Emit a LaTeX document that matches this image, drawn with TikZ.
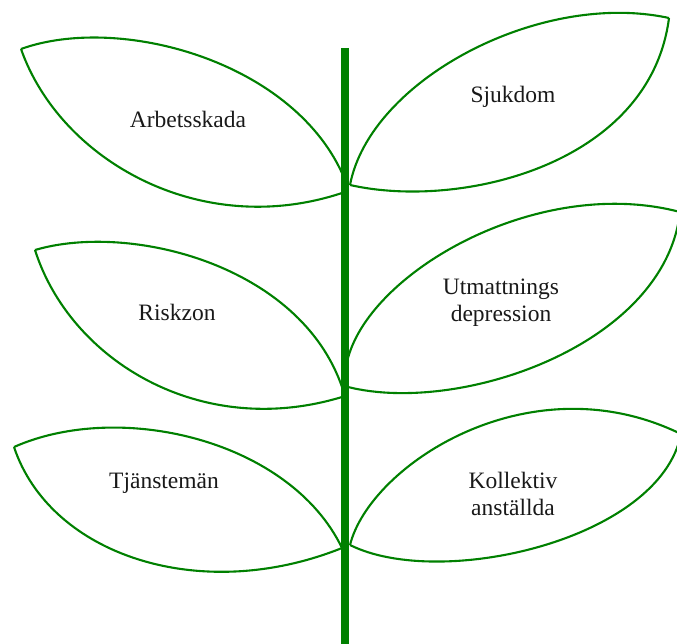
\documentclass[tikz,border=0pt]{standalone}
\usepackage{fontspec}
\setmainfont{Liberation Serif}
\definecolor{leafgreen}{RGB}{0,128,0}

\begin{document}
\begin{tikzpicture}[x=1pt, y=-1pt,
        leaf/.style={draw=leafgreen, line width=2.1pt},
        stalk/.style={draw=leafgreen, line width=8pt},
        word/.style={font=\fontsize{23.5}{27}\selectfont, text=black!90, inner sep=0pt, align=center}]
    \useasboundingbox (0,0) rectangle (677,644);
    \begin{scope}
        \clip (0,0) rectangle (677,644);

        % leaf tips and where they meet the stem
        \coordinate (tipA) at (21,49);   \coordinate (baseAu) at (342,173); \coordinate (baseAl) at (342,193);
        \coordinate (tipS) at (669,18);  \coordinate (baseS) at (350,185);
        \coordinate (tipR) at (35,250);  \coordinate (baseRu) at (342,387); \coordinate (baseRl) at (342,397);
        \coordinate (tipU) at (680,212); \coordinate (baseUu) at (348,358); \coordinate (baseUl) at (348,387);
        \coordinate (tipT) at (14,447);  \coordinate (baseT) at (342,548);
        \coordinate (tipK) at (681,434); \coordinate (baseK) at (350,545);

        % left leaves
        \draw[leaf] (tipA) .. controls (118,14) and (290,60) .. (baseAu);
        \draw[leaf] (tipA) .. controls (60,160) and (200,240) .. (baseAl);
        \draw[leaf] (tipR) .. controls (130,222) and (300,265) .. (baseRu);
        \draw[leaf] (tipR) .. controls (70,360) and (200,440) .. (baseRl);
        \draw[leaf] (tipT) .. controls (120,400) and (290,440) .. (baseT);
        \draw[leaf] (tipT) .. controls (50,555) and (200,605) .. (baseT);

        % right leaves
        \draw[leaf] (baseS) .. controls (370,80) and (540,-10) .. (tipS);
        \draw[leaf] (tipS) .. controls (650,165) and (460,210) .. (baseS);
        \draw[leaf] (baseUu) .. controls (372,270) and (540,175) .. (tipU);
        \draw[leaf] (tipU) .. controls (665,345) and (460,415) .. (baseUl);
        \draw[leaf] (baseK) .. controls (370,465) and (530,360) .. (tipK);
        \draw[leaf] (tipK) .. controls (660,540) and (440,590) .. (baseK);

        % stem
        \coordinate (top) at (345,48);
        \coordinate (foot) at (345,644);
        \draw[stalk] (top) -- (foot);
    \end{scope}

    \node[word, anchor=base] (arbetsskada) at (188,128) {Arbetsskada};
    \node[word, anchor=base] (sjukdom) at (513,103) {Sjukdom};
    \node[word, anchor=base] (riskzon) at (177,320) {Riskzon};
    \node[word, anchor=base] (tjanstemaen) at (164,488) {Tjänstemän};
    \node[word] (utmattning) at (501,303) {Utmattnings\\depression};
    \node[word] (kollektiv) at (513,494) {Kollektiv\\anställda};
\end{tikzpicture}
\end{document}
